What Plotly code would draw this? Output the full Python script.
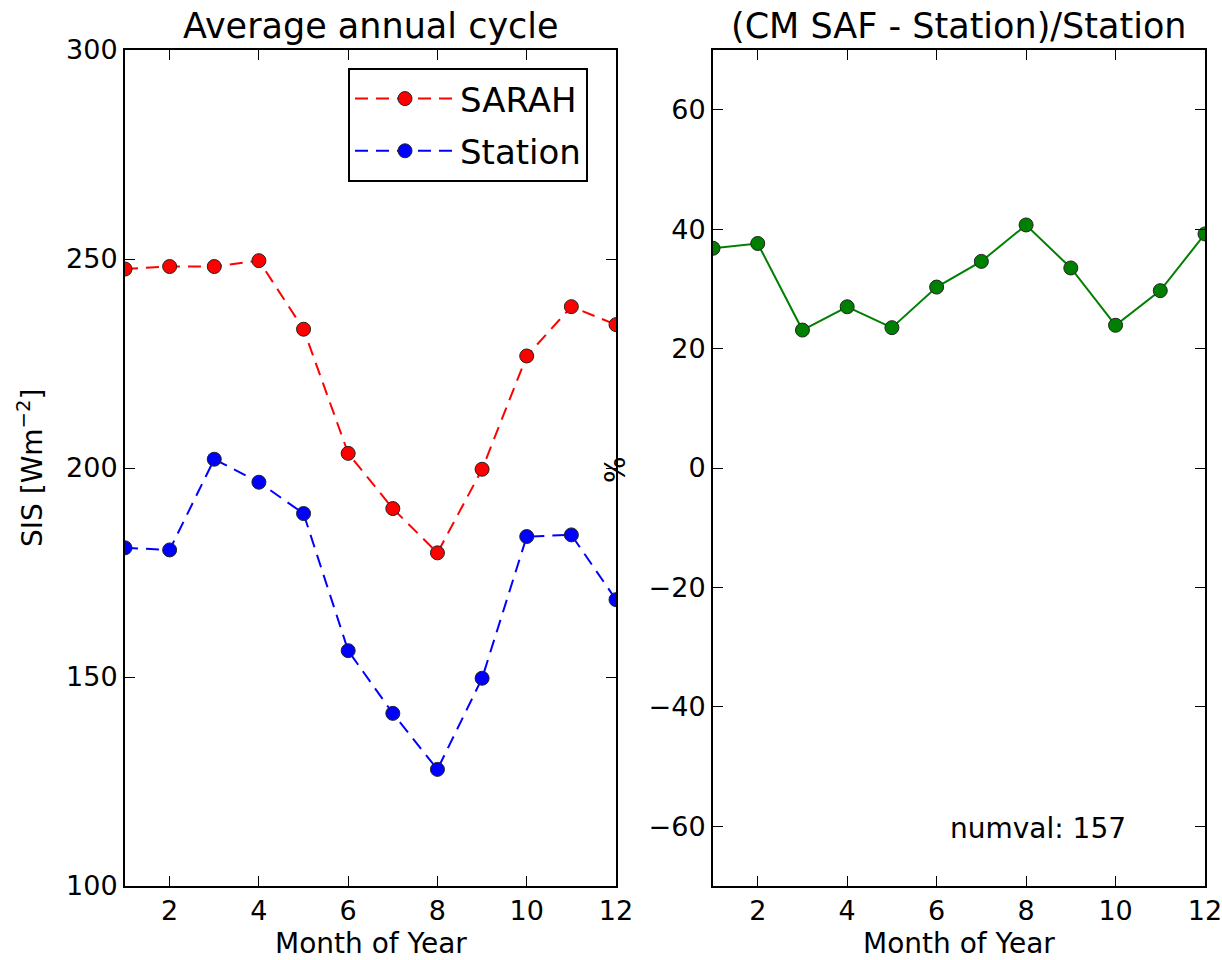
import plotly.graph_objects as go

months = list(range(1, 13))
sarah = [247.6, 248.2, 248.2, 249.6, 233.2, 203.5, 190.3, 179.7, 199.7, 226.8, 238.6, 234.3]
station = [180.9, 180.4, 202.1, 196.6, 189.1, 156.3, 141.3, 127.9, 149.7, 183.6, 184.0, 168.5]
rel_diff = [36.8, 37.6, 23.1, 27.0, 23.5, 30.3, 34.6, 40.7, 33.5, 23.9, 29.7, 39.2]
numval = 157
x_ticks = [2, 4, 6, 8, 10, 12]
y1_ticks = [100, 150, 200, 250, 300]
y2_ticks = [-60, -40, -20, 0, 20, 40, 60]

W, H = 1222, 960
FONT = "DejaVu Sans"
LBL = 28
TCK = 27
BIG = 34


def px(x):
    return x / W


def py(y):
    return 1 - y / H


fig = go.Figure()
fig.add_trace(go.Scatter(
    x=months, y=sarah, name="SARAH", mode="lines+markers", legendgroup="a",
    line=dict(color="#ff0000", width=2, dash="13px,8px"),
    marker=dict(size=14, color="#ff0000", line=dict(color="#222222", width=1)),
    xaxis="x", yaxis="y"))
fig.add_trace(go.Scatter(
    x=months, y=station, name="Station", mode="lines+markers", legendgroup="b",
    line=dict(color="#0000ff", width=2, dash="13px,8px"),
    marker=dict(size=14, color="#0000ff", line=dict(color="#222222", width=1)),
    xaxis="x", yaxis="y"))
fig.add_trace(go.Scatter(
    x=months, y=rel_diff, name="diff", mode="lines+markers", showlegend=False,
    line=dict(color="#008000", width=2),
    marker=dict(size=14, color="#008000", line=dict(color="#222222", width=1)),
    xaxis="x2", yaxis="y2"))

ydom = [py(886), py(50)]
axis_common = dict(
    showgrid=False, zeroline=False, showline=True, linecolor="black", linewidth=2,
    mirror="ticks", ticks="inside", ticklen=10, tickwidth=1, tickcolor="black",
    automargin=False, ticklabeloverflow="allow",
    tickfont=dict(family=FONT, size=TCK, color="black"),
)

fig.update_layout(
    width=W, height=H,
    margin=dict(l=0, r=0, t=0, b=0, autoexpand=False),
    paper_bgcolor="white", plot_bgcolor="white",
    font=dict(family=FONT, color="black"),
    xaxis=dict(domain=[px(125), px(616)], range=[1, 12], tickvals=x_ticks,
               anchor="y", **axis_common),
    yaxis=dict(domain=ydom, range=[100, 300], tickvals=y1_ticks,
               anchor="x", **axis_common),
    xaxis2=dict(domain=[px(713), px(1205)], range=[1, 12], tickvals=x_ticks,
                anchor="y2", **axis_common),
    yaxis2=dict(domain=ydom, range=[-70, 70], tickvals=y2_ticks,
                anchor="x2", **axis_common),
    legend=dict(x=px(348), y=py(68), xanchor="left", yanchor="top",
                bordercolor="black", borderwidth=2, bgcolor="white",
                font=dict(family=FONT, size=BIG, color="black"),
                itemwidth=100, tracegroupgap=5, traceorder="grouped"),
    showlegend=True,
)

ann = dict(xref="paper", yref="paper", showarrow=False)
fig.add_annotation(text="Average annual cycle", x=px((125 + 616) / 2), y=py(26),
                   xanchor="center", yanchor="middle",
                   font=dict(family=FONT, size=BIG + 1, color="black"), **ann)
fig.add_annotation(text="(CM SAF - Station)/Station", x=px((713 + 1205) / 2), y=py(26),
                   xanchor="center", yanchor="middle",
                   font=dict(family=FONT, size=BIG + 1, color="black"), **ann)
fig.add_annotation(text="Month of Year", x=px((125 + 616) / 2), y=py(943),
                   xanchor="center", yanchor="middle",
                   font=dict(family=FONT, size=LBL, color="black"), **ann)
fig.add_annotation(text="Month of Year", x=px((713 + 1205) / 2), y=py(943),
                   xanchor="center", yanchor="middle",
                   font=dict(family=FONT, size=LBL, color="black"), **ann)
fig.add_annotation(text="SIS [Wm<sup>−2</sup>]", x=px(30), y=py(468), textangle=-90,
                   xanchor="center", yanchor="middle",
                   font=dict(family=FONT, size=LBL, color="black"), **ann)
fig.add_annotation(text="%", x=px(616), y=py(470), textangle=-90,
                   xanchor="center", yanchor="middle",
                   font=dict(family=FONT, size=LBL, color="black"), **ann)
fig.add_annotation(text=f"numval: {numval}", x=px(1038), y=py(828),
                   xanchor="center", yanchor="middle",
                   font=dict(family=FONT, size=LBL, color="black"), **ann)

fig.write_html("out.html")
